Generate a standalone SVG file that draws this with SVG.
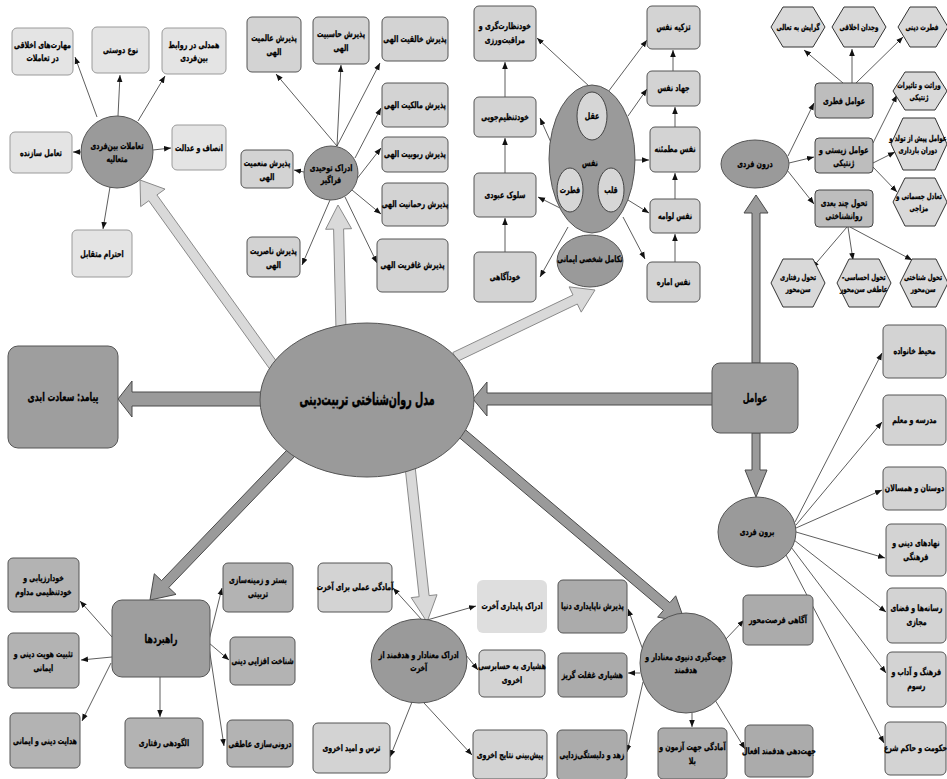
<svg xmlns="http://www.w3.org/2000/svg" width="947" height="779" viewBox="0 0 947 779">
<defs>
<marker id="ah" viewBox="0 0 10 10" refX="10" refY="5" markerWidth="7" markerHeight="7" markerUnits="userSpaceOnUse" orient="auto-start-reverse"><path d="M0,1 L10,5 L0,9 z" fill="#111"/></marker>
<marker id="ahs" viewBox="0 0 10 10" refX="10" refY="5" markerWidth="5" markerHeight="5" markerUnits="userSpaceOnUse" orient="auto-start-reverse"><path d="M0,1 L10,5 L0,9 z" fill="#111"/></marker>
</defs>
<style>
.t{font-family:"DejaVu Sans",sans-serif;font-weight:bold;font-size:9px;text-anchor:middle;fill:#000;stroke:#000;stroke-width:0.3px;direction:rtl;transform-box:fill-box;transform-origin:center;transform:scaleX(0.7)}
.big{font-size:17px;stroke-width:0.5px;transform:scaleX(0.56)}
.mid{font-size:12px;transform:scaleX(0.65)}
.hxT{font-size:8px}
.ln{stroke:#333;stroke-width:0.8;fill:none;marker-end:url(#ah)}
.dbl{stroke:#222;stroke-width:0.9;fill:none;marker-end:url(#ahs);marker-start:url(#ahs)}
.thL{fill:#d9d9d9;stroke:#8a8a8a;stroke-width:1}
.thD{fill:#9a9a9a;stroke:#4a4a4a;stroke-width:1}
.bL{fill:#e4e4e4;stroke:#9a9a9a;stroke-width:1}
.bM{fill:#d3d3d3;stroke:#555;stroke-width:1}
.bS{fill:#bdbdbd;stroke:#444;stroke-width:1}
.bB{fill:#b3b3b3;stroke:#555;stroke-width:1}
.bR{fill:#ababab;stroke:#555;stroke-width:1}
.bK{fill:#9e9e9e;stroke:#555;stroke-width:1}
.el{fill:#9a9a9a;stroke:#555;stroke-width:1}
.sm{fill:#d6d6d6;stroke:#444;stroke-width:1}
.hx{fill:#d9d9d9;stroke:#333;stroke-width:1}
</style>
<rect width="947" height="779" fill="#fff"/>

<g id="connectors">
<polygon class="thD" points="262,392 132,392 132,381 118,399 132,417 132,406 262,406"/>
<polygon class="thD" points="713,393 487,393 487,382 473,399 487,416 487,405 713,405"/>
<polygon class="thD" points="752,363 752,213 744,213 756,195 768,213 760,213 760,363"/>
<polygon class="thD" points="752,433 752,470 745,470 756,497 767,470 760,470 760,433"/>
<polygon class="thL" points="282.06,369.08 156.91,194.94 165.03,189.1 140,180 140.67,206.62 148.79,200.78 273.94,374.92"/>
<polygon class="thL" points="346,330 343.6,228.9 351.6,228.7 338,205 325.6,229.3 333.6,229.1 336,330"/>
<polygon class="thL" points="457.16,361.51 577.32,304.01 581.21,312.13 595,290 569.11,286.87 573,294.99 452.84,352.49"/>
<polygon class="thD" points="288.38,448.55 161.54,580.63 154.3,573.74 150,600 176.02,594.4 168.78,587.52 295.62,455.45"/>
<polygon class="thL" points="405.03,466.56 419.14,596.72 411.19,597.6 427,622 437.03,594.72 429.08,595.6 414.97,465.45"/>
<polygon class="thD" points="454.77,433.82 663.43,610.32 657.62,617.2 685,622 675.7,595.8 669.89,602.68 461.23,426.18"/>

<line class="ln" x1="97" y1="117" x2="75" y2="57"/>
<line class="ln" x1="118" y1="116" x2="120" y2="75"/>
<line class="ln" x1="138" y1="121" x2="165" y2="76"/>
<line class="ln" x1="153" y1="150" x2="171" y2="148"/>
<line class="ln" x1="83" y1="152" x2="73" y2="152"/>
<line class="ln" x1="110" y1="187" x2="103" y2="229"/>

<line class="ln" x1="337" y1="146" x2="276" y2="74"/>
<line class="ln" x1="337" y1="146" x2="341" y2="65"/>
<line class="ln" x1="337" y1="146" x2="380" y2="63"/>
<line class="ln" x1="355" y1="158" x2="381" y2="108"/>
<line class="ln" x1="356" y1="180" x2="381" y2="148"/>
<line class="ln" x1="352" y1="190" x2="381" y2="214"/>
<line class="ln" x1="345" y1="197" x2="377" y2="263"/>
<line class="ln" x1="304" y1="172" x2="294" y2="170"/>
<line class="ln" x1="330" y1="200" x2="302" y2="265"/>

<line class="ln" x1="505" y1="252" x2="505" y2="218"/>
<line class="ln" x1="505" y1="173" x2="505" y2="138"/>
<line class="ln" x1="505" y1="97" x2="505" y2="62"/>
<line class="ln" x1="675" y1="262" x2="675" y2="234"/>
<line class="ln" x1="675" y1="199" x2="675" y2="173"/>
<line class="ln" x1="675" y1="127" x2="675" y2="107"/>
<line class="ln" x1="673" y1="71" x2="673" y2="50"/>
<line class="ln" x1="590" y1="87" x2="537" y2="38"/>
<line class="ln" x1="553" y1="147" x2="540" y2="118"/>
<line class="ln" x1="560" y1="208" x2="538" y2="197"/>
<line class="ln" x1="568" y1="227" x2="540" y2="277"/>
<line class="ln" x1="608" y1="92" x2="647" y2="40"/>
<line class="ln" x1="628" y1="116" x2="647" y2="89"/>
<line class="ln" x1="635" y1="160" x2="649" y2="160"/>
<line class="ln" x1="628" y1="200" x2="649" y2="213"/>
<line class="ln" x1="623" y1="217" x2="645" y2="259"/>
<line class="dbl" x1="580" y1="139" x2="571" y2="167"/>
<line class="dbl" x1="603" y1="138" x2="611" y2="167"/>
<line class="dbl" x1="584" y1="191" x2="597" y2="191"/>

<line class="ln" x1="788" y1="156" x2="814" y2="103"/>
<line class="ln" x1="789" y1="163" x2="814" y2="157"/>
<line class="ln" x1="787" y1="170" x2="814" y2="204"/>
<line class="ln" x1="843" y1="83" x2="804" y2="50"/>
<line class="ln" x1="852" y1="83" x2="852" y2="49"/>
<line class="ln" x1="856" y1="83" x2="903" y2="37"/>
<line class="ln" x1="873" y1="143" x2="897" y2="95"/>
<line class="ln" x1="873" y1="163" x2="895" y2="152"/>
<line class="ln" x1="873" y1="167" x2="897" y2="192"/>
<line class="ln" x1="847" y1="227" x2="812" y2="268"/>
<line class="ln" x1="848" y1="227" x2="853" y2="260"/>
<line class="ln" x1="850" y1="227" x2="912" y2="260"/>

<line class="ln" x1="795" y1="522" x2="882" y2="353"/>
<line class="ln" x1="796" y1="525" x2="882" y2="422"/>
<line class="ln" x1="796" y1="528" x2="882" y2="490"/>
<line class="ln" x1="796" y1="532" x2="885" y2="558"/>
<line class="ln" x1="794" y1="540" x2="886" y2="612"/>
<line class="ln" x1="791" y1="547" x2="886" y2="673"/>
<line class="ln" x1="786" y1="555" x2="884" y2="743"/>

<line class="ln" x1="112" y1="637" x2="80" y2="601"/>
<line class="ln" x1="112" y1="657" x2="81" y2="660"/>
<line class="ln" x1="111" y1="663" x2="82" y2="721"/>
<line class="ln" x1="160" y1="677" x2="160" y2="717"/>
<line class="ln" x1="209" y1="640" x2="222" y2="588"/>
<line class="ln" x1="209" y1="643" x2="229" y2="660"/>
<line class="ln" x1="209" y1="647" x2="224" y2="746"/>

<line class="ln" x1="422" y1="620" x2="393" y2="588"/>
<line class="ln" x1="427" y1="620" x2="476" y2="606"/>
<line class="ln" x1="466" y1="655" x2="478" y2="670"/>
<line class="ln" x1="412" y1="702" x2="390" y2="757"/>
<line class="ln" x1="424" y1="703" x2="472" y2="755"/>

<line class="ln" x1="643" y1="650" x2="628" y2="609"/>
<line class="ln" x1="640" y1="673" x2="628" y2="673"/>
<line class="ln" x1="643" y1="682" x2="627" y2="752"/>
<line class="ln" x1="692" y1="713" x2="692" y2="727"/>
<line class="ln" x1="715" y1="700" x2="745" y2="749"/>
<line class="ln" x1="725" y1="640" x2="744" y2="620"/>
</g>

<g id="center"><ellipse class="el" cx="367" cy="400" rx="107" ry="77"/><text class="t big" x="367" y="405">مدل روان‌شناختی تربیت‌دینی</text></g>
<g id="outcome"><rect class="bK" x="8" y="346" width="110" height="102" rx="10"/><text class="t mid" x="63" y="401">پیامد: سعادت ابدی</text></g>

<g id="interpersonal"><circle class="el" cx="117" cy="152" r="36"/><text class="t"><tspan x="117" y="149">تعاملات بین‌فردی</tspan><tspan x="117" y="162">متعالیه</tspan></text></g>
<g id="n-maharat"><rect class="bL" x="12" y="28" width="61" height="47" rx="5"/><text class="t"><tspan x="42.5" y="48">مهارت‌های اخلاقی</tspan><tspan x="42.5" y="61">در تعاملات</tspan></text></g>
<g id="n-nowdusti"><rect class="bL" x="92" y="27" width="57" height="46" rx="5"/><text class="t" x="120.5" y="53">نوع دوستی</text></g>
<g id="n-hamdeli"><rect class="bL" x="162" y="28" width="64" height="46" rx="5"/><text class="t"><tspan x="194" y="48">همدلی در روابط</tspan><tspan x="194" y="61">بین‌فردی</tspan></text></g>
<g id="n-ensaf"><rect class="bL" x="172" y="125" width="54" height="45" rx="5"/><text class="t" x="199" y="151">انصاف و عدالت</text></g>
<g id="n-taamol"><rect class="bL" x="10" y="132" width="62" height="41" rx="5"/><text class="t" x="41" y="156">تعامل سازنده</text></g>
<g id="n-ehteram"><rect class="bL" x="72" y="230" width="60" height="47" rx="5"/><text class="t" x="102" y="257">احترام متقابل</text></g>

<g id="tawhid"><circle class="el" cx="331" cy="173" r="27"/><text class="t"><tspan x="331" y="171">ادراک توحیدی</tspan><tspan x="331" y="183">فراگیر</tspan></text></g>
<g id="n-alemiyat"><rect class="bM" x="247" y="17" width="54" height="55" rx="5"/><text class="t"><tspan x="274" y="41">پذیرش عالمیت</tspan><tspan x="274" y="55">الهی</tspan></text></g>
<g id="n-hasebiyat"><rect class="bM" x="313" y="17" width="56" height="47" rx="5"/><text class="t"><tspan x="341" y="37">پذیرش حاسبیت</tspan><tspan x="341" y="51">الهی</tspan></text></g>
<g id="n-khaleqiyat"><rect class="bM" x="382" y="17" width="66" height="44" rx="5"/><text class="t" x="415" y="42">پذیرش خالقیت الهی</text></g>
<g id="n-malekiyat"><rect class="bM" x="382" y="83" width="66" height="44" rx="5"/><text class="t" x="415" y="108">پذیرش مالکیت الهی</text></g>
<g id="n-rububiyat"><rect class="bM" x="382" y="137" width="66" height="35" rx="5"/><text class="t" x="415" y="157">پذیرش ربوبیت الهی</text></g>
<g id="n-rahmaniyat"><rect class="bM" x="382" y="183" width="66" height="43" rx="5"/><text class="t" x="415" y="207">پذیرش رحمانیت الهی</text></g>
<g id="n-ghafeiryat"><rect class="bM" x="377" y="239" width="71" height="53" rx="5"/><text class="t" x="412.5" y="268">پذیرش غافریت الهی</text></g>
<g id="n-monemiyat"><rect class="bM" x="241" y="150" width="52" height="38" rx="5"/><text class="t"><tspan x="267" y="166">پذیرش منعمیت</tspan><tspan x="267" y="180">الهی</tspan></text></g>
<g id="n-naseriyat"><rect class="bM" x="247" y="237" width="53" height="40" rx="5"/><text class="t"><tspan x="273.5" y="254">پذیرش ناصریت</tspan><tspan x="273.5" y="268">الهی</tspan></text></g>

<g id="nafs"><ellipse class="el" cx="592" cy="159" rx="43" ry="74"/><text class="t" x="590" y="166">نفس</text></g>
<g id="aql"><ellipse class="sm" cx="592" cy="116" rx="15" ry="24"/><text class="t" x="592" y="119">عقل</text></g>
<g id="fetrat"><ellipse class="sm" cx="570" cy="190" rx="13" ry="22"/><text class="t" x="570" y="193">فطرت</text></g>
<g id="qalb"><ellipse class="sm" cx="611" cy="190" rx="13" ry="22"/><text class="t" x="611" y="193">قلب</text></g>
<g id="takamol"><ellipse class="el" cx="590" cy="261" rx="33" ry="26"/><text class="t" x="590" y="262">تکامل شخصی ایمانی</text></g>
<g id="n-khodnezarat"><rect class="bM" x="474" y="6" width="62" height="55" rx="5"/><text class="t"><tspan x="505" y="29">خودنظارت‌گری و</tspan><tspan x="505" y="43">مراقبت‌ورزی</tspan></text></g>
<g id="n-khodtanzim"><rect class="bM" x="474" y="97" width="62" height="40" rx="5"/><text class="t" x="505" y="120">خودتنظیم‌جویی</text></g>
<g id="n-soluk"><rect class="bM" x="474" y="173" width="62" height="44" rx="5"/><text class="t" x="505" y="198">سلوک عبودی</text></g>
<g id="n-khodagahi"><rect class="bM" x="474" y="252" width="62" height="50" rx="5"/><text class="t" x="505" y="280">خودآگاهی</text></g>
<g id="n-tazkiye"><rect class="bM" x="647" y="6" width="53" height="43" rx="5"/><text class="t" x="673.5" y="30">تزکیه نفس</text></g>
<g id="n-jahad"><rect class="bM" x="647" y="71" width="53" height="35" rx="5"/><text class="t" x="673.5" y="91">جهاد نفس</text></g>
<g id="n-motmaenne"><rect class="bM" x="650" y="127" width="50" height="45" rx="5"/><text class="t" x="675" y="152">نفس مطمئنه</text></g>
<g id="n-lavvame"><rect class="bM" x="650" y="199" width="50" height="34" rx="5"/><text class="t" x="675" y="219">نفس لوامه</text></g>
<g id="n-ammare"><rect class="bM" x="647" y="262" width="53" height="40" rx="5"/><text class="t" x="673.5" y="285">نفس اماره</text></g>

<g id="darun"><ellipse class="el" cx="755" cy="164" rx="34" ry="24"/><text class="t" x="755" y="167">درون فردی</text></g>
<g id="n-fetri"><rect class="bS" x="815" y="83" width="58" height="35" rx="4"/><text class="t" x="844" y="104">عوامل فطری</text></g>
<g id="n-zisti"><rect class="bS" x="815" y="138" width="58" height="35" rx="4"/><text class="t"><tspan x="844" y="153">عوامل زیستی و</tspan><tspan x="844" y="166">ژنتیکی</tspan></text></g>
<g id="n-tahavol"><rect class="bS" x="815" y="190" width="58" height="37" rx="4"/><text class="t"><tspan x="844" y="206">تحول چند بعدی</tspan><tspan x="844" y="219">روانشناختی</tspan></text></g>
<g id="h-gerayesh"><polygon class="hx" points="771,27 783,7 813,7 825,27 813,47 783,47"/><text class="t hxT" x="798" y="30">گرایش به تعالی</text></g>
<g id="h-vojdan"><polygon class="hx" points="832,27 844,7 874,7 886,27 874,47 844,47"/><text class="t hxT" x="859" y="30">وجدان اخلاقی</text></g>
<g id="h-fetrat"><polygon class="hx" points="898,27 910,7 936,7 948,27 936,47 910,47"/><text class="t hxT" x="922" y="30">فطرت دینی</text></g>
<g id="h-verasat"><polygon class="hx" points="893,91 905,72 935,72 947,91 935,110 905,110"/><text class="t hxT"><tspan x="919" y="88">وراثت و تاثیرات</tspan><tspan x="919" y="100">ژنتیکی</tspan></text></g>
<g id="h-tavallod"><polygon class="hx" points="891,144 903,118 935,118 947,144 935,170 903,170"/><text class="t hxT"><tspan x="918" y="141">عوامل پیش از تولد و</tspan><tspan x="918" y="153">دوران بارداری</tspan></text></g>
<g id="h-taadol"><polygon class="hx" points="893,202 905,178 935,178 947,202 935,226 905,226"/><text class="t hxT"><tspan x="919" y="199">تعادل جسمانی و</tspan><tspan x="919" y="211">مزاجی</tspan></text></g>
<g id="h-raftari"><polygon class="hx" points="771,283 783,259 813,259 825,283 813,307 783,307"/><text class="t hxT"><tspan x="798" y="280">تحول رفتاری</tspan><tspan x="798" y="292">سن‌محور</tspan></text></g>
<g id="h-ehsasi"><polygon class="hx" points="837,283 849,259 879,259 891,283 879,307 849,307"/><text class="t hxT"><tspan x="864" y="280">تحول احساسی-</tspan><tspan x="864" y="292">عاطفی سن‌محور</tspan></text></g>
<g id="h-shenakhti"><polygon class="hx" points="900,283 912,259 936,259 948,283 936,307 912,307"/><text class="t hxT"><tspan x="923" y="280">تحول شناختی</tspan><tspan x="923" y="292">سن‌محور</tspan></text></g>

<g id="avamel"><rect class="bK" x="712" y="363" width="86" height="70" rx="8"/><text class="t mid" x="755" y="402">عوامل</text></g>
<g id="birun"><ellipse class="el" cx="757" cy="532" rx="39" ry="35"/><text class="t" x="757" y="535">برون فردی</text></g>
<g id="n-khanevade"><rect class="bM" x="883" y="325" width="63" height="53" rx="5"/><text class="t" x="914.5" y="354">محیط خانواده</text></g>
<g id="n-madrese"><rect class="bM" x="883" y="395" width="63" height="50" rx="5"/><text class="t" x="914.5" y="423">مدرسه و معلم</text></g>
<g id="n-dustan"><rect class="bM" x="883" y="467" width="63" height="43" rx="5"/><text class="t" x="914.5" y="491">دوستان و همسالان</text></g>
<g id="n-nahadha"><rect class="bM" x="886" y="524" width="60" height="52" rx="5"/><text class="t"><tspan x="916" y="546">نهادهای دینی و</tspan><tspan x="916" y="560">فرهنگی</tspan></text></g>
<g id="n-resaneh"><rect class="bM" x="887" y="588" width="59" height="55" rx="5"/><text class="t"><tspan x="916.5" y="611">رسانه‌ها و فضای</tspan><tspan x="916.5" y="625">مجازی</tspan></text></g>
<g id="n-farhang"><rect class="bM" x="887" y="652" width="59" height="55" rx="5"/><text class="t"><tspan x="916.5" y="675">فرهنگ و آداب و</tspan><tspan x="916.5" y="689">رسوم</tspan></text></g>
<g id="n-hokumat"><rect class="bM" x="885" y="722" width="61" height="53" rx="5"/><text class="t" x="915.5" y="751">حکومت و حاکم شرع</text></g>

<g id="rahbordha"><rect class="bK" x="112" y="600" width="98" height="77" rx="10"/><text class="t mid" x="161" y="643">راهبردها</text></g>
<g id="n-khodarzyabi"><rect class="bB" x="8" y="558" width="71" height="54" rx="5"/><text class="t"><tspan x="43.5" y="581">خودارزیابی و</tspan><tspan x="43.5" y="595">خودتنظیمی مداوم</tspan></text></g>
<g id="n-tasbit"><rect class="bB" x="8" y="633" width="71" height="55" rx="5"/><text class="t"><tspan x="43.5" y="657">تثبیت هویت دینی و</tspan><tspan x="43.5" y="671">ایمانی</tspan></text></g>
<g id="n-hedayat"><rect class="bB" x="10" y="713" width="70" height="55" rx="5"/><text class="t" x="45" y="744">هدایت دینی و ایمانی</text></g>
<g id="n-olgudehi"><rect class="bB" x="125" y="718" width="78" height="50" rx="5"/><text class="t" x="164" y="746">الگودهی رفتاری</text></g>
<g id="n-bastar"><rect class="bB" x="223" y="563" width="70" height="49" rx="5"/><text class="t"><tspan x="258" y="583">بستر و زمینه‌سازی</tspan><tspan x="258" y="597">تربیتی</tspan></text></g>
<g id="n-shenakht"><rect class="bB" x="230" y="637" width="65" height="48" rx="5"/><text class="t" x="262.5" y="664">شناخت افزایی دینی</text></g>
<g id="n-daruni"><rect class="bB" x="227" y="720" width="66" height="47" rx="5"/><text class="t" x="260" y="747">درونی‌سازی عاطفی</text></g>

<g id="akherat"><ellipse class="el" cx="419" cy="661" rx="48" ry="42"/><text class="t"><tspan x="419" y="658">ادراک معنادار و هدفمند از</tspan><tspan x="419" y="671">آخرت</tspan></text></g>
<g id="n-amadegi-amali"><rect class="bM" x="318" y="563" width="74" height="49" rx="5"/><text class="t" x="355" y="590">آمادگی عملی برای آخرت</text></g>
<g id="n-paydari"><rect x="477" y="580" width="70" height="53" rx="6" fill="#dedede"/><text class="t" x="512" y="609">ادراک پایداری آخرت</text></g>
<g id="n-hoshyari-hesab"><rect class="bM" x="479" y="650" width="66" height="47" rx="5"/><text class="t"><tspan x="512" y="669">هشیاری به حسابرسی</tspan><tspan x="512" y="683">اخروی</tspan></text></g>
<g id="n-tars"><rect class="bM" x="313" y="723" width="77" height="50" rx="5"/><text class="t" x="351.5" y="751">ترس و امید اخروی</text></g>
<g id="n-pishbini"><rect class="bM" x="473" y="730" width="74" height="49" rx="5"/><text class="t" x="510" y="758">پیش‌بینی نتایج اخروی</text></g>

<g id="jahatgiri"><ellipse class="el" cx="686" cy="663" rx="46" ry="50"/><text class="t"><tspan x="686" y="660">جهت‌گیری دنیوی معنادار و</tspan><tspan x="686" y="673">هدفمند</tspan></text></g>
<g id="n-napaydari"><rect class="bR" x="558" y="580" width="69" height="53" rx="5"/><text class="t" x="592.5" y="609">پذیرش ناپایداری دنیا</text></g>
<g id="n-ghaflat"><rect class="bR" x="558" y="653" width="69" height="44" rx="5"/><text class="t" x="592.5" y="678">هشیاری غفلت گریز</text></g>
<g id="n-zohd"><rect class="bR" x="557" y="730" width="70" height="50" rx="5"/><text class="t" x="592" y="758">زهد و دلبستگی‌زدایی</text></g>
<g id="n-azmun"><rect class="bR" x="658" y="728" width="69" height="51" rx="5"/><text class="t"><tspan x="692.5" y="750">آمادگی جهت آزمون و</tspan><tspan x="692.5" y="764">بلا</tspan></text></g>
<g id="n-forsat"><rect class="bR" x="743" y="595" width="70" height="50" rx="5"/><text class="t" x="778" y="623">آگاهی فرصت‌محور</text></g>
<g id="n-jahatdehi"><rect class="bR" x="745" y="725" width="68" height="52" rx="5"/><text class="t" x="779" y="754">جهت‌دهی هدفمند افعال</text></g>
</svg>
